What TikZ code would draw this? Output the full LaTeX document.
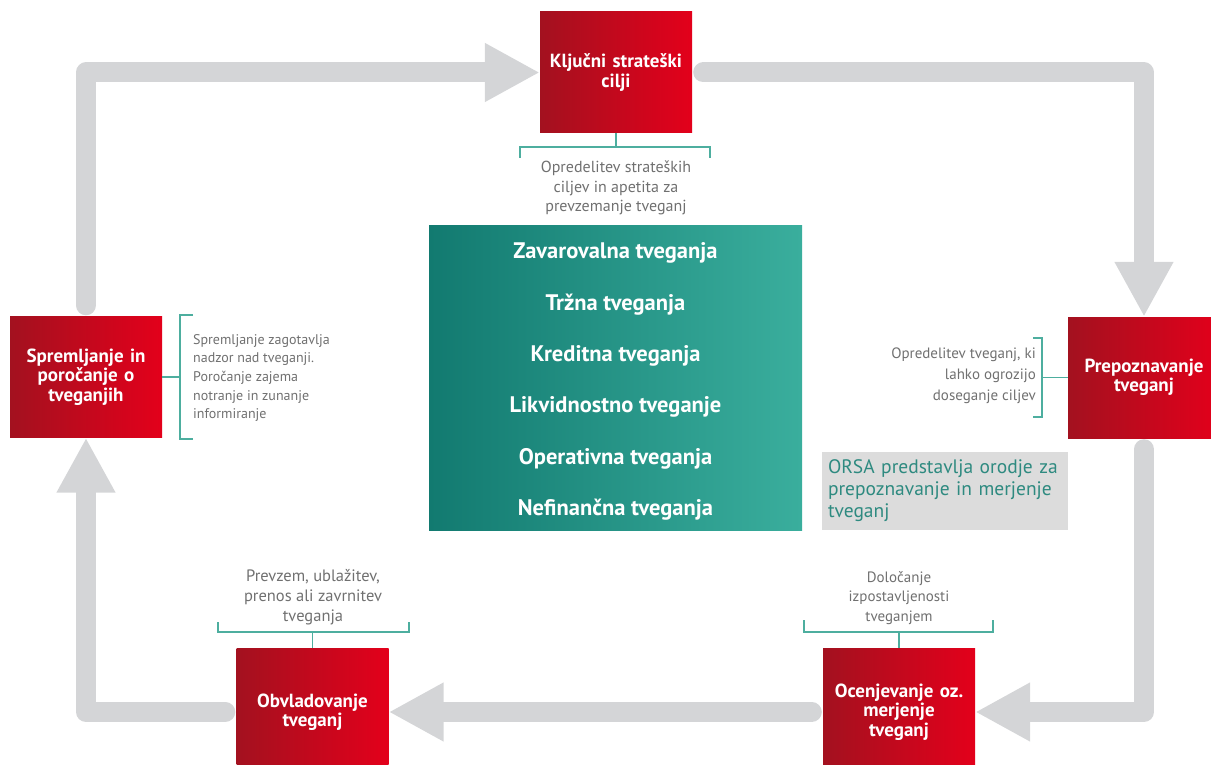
\documentclass[tikz,border=0pt]{standalone}
\usepackage{fontspec}
\setmainfont{PT Sans}
\usepackage{tikz}
\usetikzlibrary{arrows.meta, positioning}

\definecolor{rdecatemna}{HTML}{A3111F}
\definecolor{rdecasvetla}{HTML}{E3001B}
\definecolor{zelenatemna}{HTML}{127A70}
\definecolor{zelenasvetla}{HTML}{3AAE9D}
\definecolor{oklepajbarva}{HTML}{4DAE9F}
\definecolor{siva}{HTML}{D4D5D7}
\definecolor{sivtekst}{HTML}{707070}
\definecolor{sivozadje}{HTML}{DCDCDC}
\definecolor{orsatekst}{HTML}{2E8A80}

\tikzset{
	every node/.style={
		font=\fontsize{15}{19.5}\selectfont
	},
	korak/.style={
		shape=rectangle,
		minimum width=152pt,
		minimum height=121pt,
		text width=146pt,
		inner sep=0pt,
		align=center,
		left color=rdecatemna,
		right color=rdecasvetla,
		text=white,
		font=\fontsize{19}{19.5}\selectfont\bfseries
	},
	skupina/.style={
		shape=rectangle,
		minimum width=373pt,
		minimum height=305pt,
		inner sep=0pt,
		left color=zelenatemna,
		right color=zelenasvetla
	},
	seznam/.style={
		inner sep=0pt,
		align=center,
		text=white,
		font=\fontsize{22.5}{51.4}\selectfont\bfseries
	},
	orsa/.style={
		shape=rectangle,
		fill=sivozadje,
		minimum height=78pt,
		text width=234pt,
		inner xsep=6pt,
		align=left,
		text=orsatekst,
		font=\fontsize{19.5}{22}\selectfont
	},
	opis/.style={
		text=sivtekst,
		inner sep=0pt,
		align=center
	},
	oklepaj/.style={
		draw=oklepajbarva,
		line width=1.5pt
	},
	puscica/.style={
		draw=siva,
		line width=20pt,
		line join=round,
		line cap=round,
		shorten <=11pt,
		-{Triangle[length=55pt,width=55pt]}
	}
}

\begin{document}
\begin{tikzpicture}[x=1pt,y=-1pt]
	\useasboundingbox (0,0) rectangle (1211,765);
	\clip (0,0) rectangle (1211,765);

	% koraki
	\node[korak] (kljucni) at (616,72.5) {Ključni strateški\\cilji};
	\node[korak] (prepoznavanje) at (1144,377.5) {Prepoznavanje\\tveganj};
	\node[korak, minimum height=128pt] (ocenjevanje) at (899,712) {Ocenjevanje oz.\\merjenje\\tveganj};
	\node[korak, minimum height=128pt] (obvladovanje) at (312.5,712) {Obvladovanje\\tveganj};
	\node[korak] (spremljanje) at (86,377) {Spremljanje in\\poročanje o\\tveganjih};

	\node[skupina] (tveganja) at (615.5,377.5) {};
	\node[seznam] (seznam) at ([yshift=-4pt]tveganja.center) {Zavarovalna tveganja\\Tržna tveganja\\Kreditna tveganja\\Likvidnostno tveganje\\Operativna tveganja\\Nefinančna tveganja};
	\node[orsa] (orsa) at (945,491) {ORSA predstavlja orodje za\\prepoznavanje in merjenje\\tveganj};

	% puscice
	\draw[puscica] (spremljanje.north) |- (kljucni.west);
	\draw[puscica] (kljucni.east) -| (prepoznavanje.north);
	\draw[puscica] (prepoznavanje.south) |- (ocenjevanje.east);
	\draw[puscica] (ocenjevanje.west) -- (obvladovanje.east);
	\draw[puscica] (obvladovanje.west) -| (spremljanje.south);

	% oklepaji in opisi
	\draw[oklepaj] (kljucni.south) -- (kljucni.south |- 0,147);
	\draw[oklepaj] (520,158) |- (710,147) -- (710,158);
	\node[opis, font=\fontsize{16}{19.5}\selectfont] (kljucniopis) at (616,188) {Opredelitev strateških\\ciljev in apetita za\\prevzemanje tveganj};

	\draw[oklepaj] (spremljanje.east) -- (spremljanje.east -| 180,0);
	\draw[oklepaj] (193,315) -| (180,439) -- (193,439);
	\node[opis, anchor=west, align=left, font=\fontsize{14}{18.7}\selectfont] (spremljanjeopis) at (193,378) {Spremljanje zagotavlja\\nadzor nad tveganji.\\Poročanje zajema\\notranje in zunanje\\informiranje};

	\draw[oklepaj] (prepoznavanje.west) -- (prepoznavanje.west -| 1042,0);
	\draw[oklepaj] (1033,338) -| (1042,417) -- (1033,417);
	\node[opis, anchor=east, align=right, font=\fontsize{15}{21}\selectfont] (prepoznavanjeopis) at (1036,376) {Opredelitev tveganj, ki\\lahko ogrozijo\\doseganje ciljev};

	\draw[oklepaj] (obvladovanje.north) -- (obvladovanje.north |- 0,632);
	\draw[oklepaj] (218,622) |- (409,632) -- (409,622);
	\node[opis, font=\fontsize{16.5}{20}\selectfont] (obvladovanjeopis) at (313,597) {Prevzem, ublažitev,\\prenos ali zavrnitev\\tveganja};

	\draw[oklepaj] (ocenjevanje.north) -- (ocenjevanje.north |- 0,632);
	\draw[oklepaj] (804,620) |- (993,632) -- (993,620);
	\node[opis] (ocenjevanjeopis) at (899,598) {Določanje\\izpostavljenosti\\tveganjem};
\end{tikzpicture}
\end{document}
